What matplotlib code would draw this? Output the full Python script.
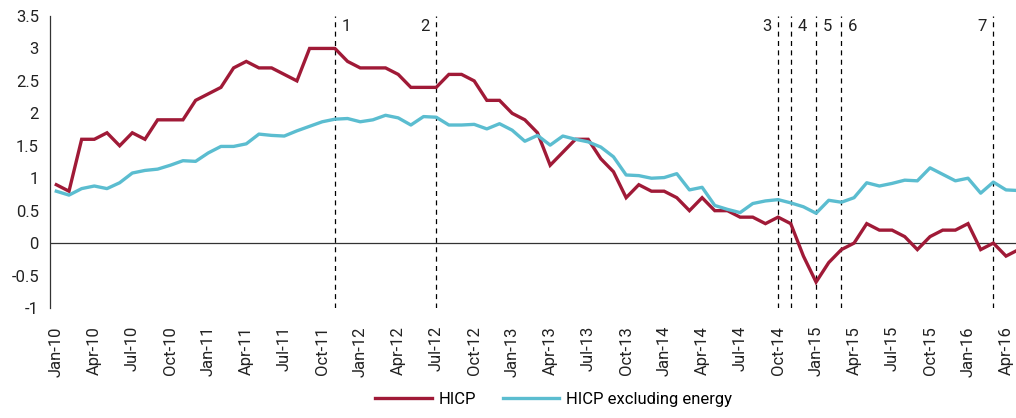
import numpy as np
import pandas as pd
import matplotlib
matplotlib.use("Agg")
import matplotlib.pyplot as plt

# monthly data, Jan-10 .. May-16
months = pd.date_range("2010-01-01", "2016-05-01", freq="MS")
month_labels = [m.strftime("%b-%y") for m in months]

hicp = [0.9, 0.8, 1.6, 1.6, 1.7, 1.5, 1.7, 1.6, 1.9, 1.9, 1.9, 2.2,
        2.3, 2.4, 2.7, 2.8, 2.7, 2.7, 2.6, 2.5, 3.0, 3.0, 3.0, 2.8,
        2.7, 2.7, 2.7, 2.6, 2.4, 2.4, 2.4, 2.6, 2.6, 2.5, 2.2, 2.2,
        2.0, 1.9, 1.7, 1.2, 1.4, 1.6, 1.6, 1.3, 1.1, 0.7, 0.9, 0.8,
        0.8, 0.7, 0.5, 0.7, 0.5, 0.5, 0.4, 0.4, 0.3, 0.4, 0.3, -0.2,
        -0.6, -0.3, -0.1, 0.0, 0.3, 0.2, 0.2, 0.1, -0.1, 0.1, 0.2, 0.2,
        0.3, -0.1, 0.0, -0.2, -0.1]

hicp_ex_energy = [0.80, 0.74, 0.84, 0.88, 0.84, 0.93, 1.08, 1.12, 1.14, 1.20, 1.27, 1.26,
                  1.39, 1.49, 1.49, 1.53, 1.68, 1.66, 1.65, 1.73, 1.80, 1.87, 1.91, 1.92,
                  1.87, 1.90, 1.97, 1.93, 1.82, 1.95, 1.94, 1.82, 1.82, 1.83, 1.76, 1.84,
                  1.74, 1.57, 1.66, 1.51, 1.65, 1.60, 1.56, 1.48, 1.33, 1.05, 1.04, 1.00,
                  1.01, 1.07, 0.82, 0.86, 0.58, 0.52, 0.47, 0.61, 0.65, 0.67, 0.62, 0.56,
                  0.46, 0.66, 0.63, 0.70, 0.93, 0.88, 0.92, 0.97, 0.96, 1.16, 1.06, 0.96,
                  1.00, 0.77, 0.94, 0.82, 0.81]

# event markers: month label, number, side of the text
events = ["Nov-11", "Jul-12", "Oct-14", "Nov-14", "Jan-15", "Mar-15", "Mar-16"]
event_nums = ["1", "2", "3", "4", "5", "6", "7"]
event_side = ["right", "left", "left", "right", "right", "right", "left"]

red = "#A01A37"
blue = "#5BBDD0"

plt.rcParams["font.family"] = ["Roboto", "DejaVu Sans"]

fig = plt.figure(figsize=(10.16, 4.18), dpi=100)
ax = fig.add_axes([50 / 1016, 110 / 418, 975 / 1016, 292 / 418])

x = np.arange(len(months))
ax.plot(x, hicp, color=red, lw=2.4, label="HICP", solid_joinstyle="miter")
ax.plot(x, hicp_ex_energy, color=blue, lw=2.4, label="HICP excluding energy")

ax.axhline(0, color="#333333", lw=0.9, zorder=1)

for ev, num, side in zip(events, event_nums, event_side):
    xi = month_labels.index(ev)
    ax.plot([xi, xi], [-1, 3.5], color="black", lw=0.9, ls=(0, (4, 3.5)), zorder=1)
    off = 8 if side == "right" else -8
    ax.annotate(num, (xi, 3.5), xytext=(off, -2), textcoords="offset points",
                ha="center", va="top", fontsize=12, color="#222222")

ax.set_xlim(-0.5, 76.5)
ax.set_ylim(-1, 3.5)
ax.set_yticks(np.arange(-1, 3.6, 0.5))
ax.set_yticklabels(["-1", "-0.5", "0", "0.5", "1", "1.5", "2", "2.5", "3", "3.5"])
ax.set_xticks(x[::3])
ax.set_xticklabels(month_labels[::3], rotation=90, ha="center", va="top")

for s in ["top", "right", "bottom"]:
    ax.spines[s].set_visible(False)
ax.spines["left"].set_color("#333333")
ax.spines["left"].set_linewidth(0.9)
ax.tick_params(axis="both", length=0, labelsize=12, colors="#222222")
ax.tick_params(axis="x", pad=13)
ax.tick_params(axis="y", pad=8)

fig.legend(loc="lower center", bbox_to_anchor=(0.545, -0.01), ncol=2, frameon=False,
           fontsize=12, handlelength=3.4, handletextpad=0.4, columnspacing=1.6)

fig.savefig("out.png", dpi=100)
